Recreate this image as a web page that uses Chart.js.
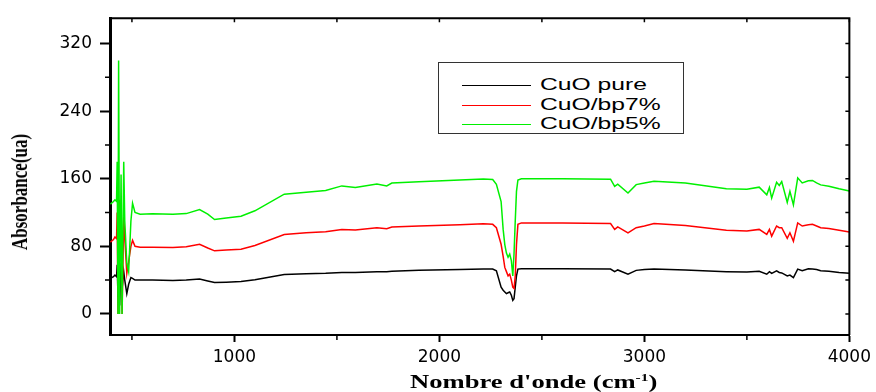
<!DOCTYPE html>
<html>
<head>
<meta charset="utf-8">
<script src="https://cdn.jsdelivr.net/npm/chart.js@4.4.1/dist/chart.umd.min.js"></script>
<style>
  body { margin: 0; background: #fff; }
  #wrap { position: relative; width: 876px; height: 392px; overflow: hidden; }
  #legend { position: absolute; left: 438px; top: 62px; width: 244px; height: 70px; border: 1px solid #333; background: #fff; }
  #legend .row { position: absolute; left: 0; height: 20px; width: 100%; }
  #legend .line { position: absolute; left: 23px; width: 69px; top: 10px; height: 1px; }
  #legend .txt { position: absolute; left: 101px; top: 0; font: 17px "Liberation Sans", Arial, sans-serif; line-height: 20px; transform: scaleX(1.45); transform-origin: left center; white-space: nowrap; color: #000; }
  #xTitle { position: absolute; left: 410px; top: 366px; font: bold 19px "Liberation Serif", "Times New Roman", serif; line-height: 22px; transform: scaleX(1.4); transform-origin: left center; white-space: nowrap; }
  #xTitle sup { font-size: 11px; }
  #yTitle { position: absolute; left: 20px; top: 192px; font: bold 17px "Liberation Serif", "Times New Roman", serif; white-space: nowrap; transform: translate(-50%, -50%) rotate(-90deg) scaleY(1.3); }
</style>
</head>
<body>
<div id="wrap">
  <canvas id="chart" width="876" height="392"></canvas>
  <div id="legend"></div>
  <div id="xTitle">Nombre d'onde (cm<sup>-1</sup>)</div>
  <div id="yTitle">Absorbance(ua)</div>
</div>
<script>
// wavenumbers (cm-1), shared by the three spectra
const waveNumbers = [
  395, 410, 417, 425, 428, 432, 435, 440, 447, 452, 460, 465, 475, 484, 495, 503, 515, 540,
  600, 700, 765, 830, 870, 903, 960, 1032, 1100, 1243, 1350, 1445, 1524, 1590, 1695, 1743, 1768, 1900, 2100, 2214, 2260,
  2278, 2301, 2311, 2319, 2327, 2335, 2343, 2351, 2358, 2364, 2370, 2376, 2383, 2400,
  2600, 2835, 2855, 2870, 2920, 2960, 3000, 3047, 3200, 3400, 3500, 3560,
  3597, 3610, 3621, 3645, 3658, 3670, 3697, 3710, 3727, 3748, 3770, 3800, 3820, 3840, 3860, 3900, 3950, 4000,
];

const cuoPure = [
  42, 44, 46, 44, 58, 20, 45, 10, 60, 30, 50, 40, 24, 35, 43, 42, 40, 40,
  40, 39.5, 40, 41.4, 39, 37.1, 37.5, 38.3, 40.5, 46.5, 47.5, 48, 49, 49, 50, 50, 50.5, 51.5, 52.5, 53, 53,
  51, 31.6, 28, 26, 24, 25, 26, 22, 16, 18, 31.6, 45, 53, 53.5,
  53.5, 53, 50, 52, 47, 51.5, 52.5, 53, 52, 50, 49.5, 50.5,
  47, 50, 48, 51, 49, 48.5, 45, 46, 43, 53, 51, 53.5, 53, 52.5, 51, 50.5, 49, 48,
];

const cuoBp7 = [
  85, 88, 91, 89, 120, 0, 110, 135, 108, 0, 115, 90, 48, 62, 80, 87, 80, 79,
  79, 78.5, 79.5, 82.4, 78, 74.6, 75.5, 76.6, 81, 94, 96, 97.2, 100, 99.2, 101.9, 100.8, 102.7, 104, 105.5, 106.6, 106,
  102, 82.4, 68, 55, 50, 45, 47, 40, 31.6, 30, 45, 82, 106, 107.7,
  107.5, 107, 100, 103, 96, 102, 104, 107, 104.5, 99, 98, 100,
  94, 100, 92, 104, 102, 102, 89.5, 96, 86, 107.7, 104, 105.5, 106, 104, 102, 101, 99, 97,
];

const cuoBp5 = [
  130, 133, 135, 133, 180, 0, 300, 0, 165, 0, 180, 110, 60, 50, 110, 131, 120, 118,
  118.5, 118, 118.7, 123.4, 118, 111.7, 113.5, 115.6, 122, 141.7, 144, 146, 151.5, 149.5, 153.8, 151.5, 154.8, 156.5, 158.5, 159.7, 159,
  153.4, 133, 100, 82, 72, 67, 70.7, 63, 45, 71, 110, 145, 158.5, 160,
  160, 159.5, 151, 153.5, 143, 153, 155, 157, 155, 148, 147.5, 150,
  141, 149.6, 137, 155.7, 152, 156.6, 132, 145, 129, 161, 155, 157.5, 158, 155, 152.7, 151, 148, 145.5,
];

const seriesNames = ["CuO pure", "CuO/bp7%", "CuO/bp5%"];
const seriesColors = ["#000000", "#ff0000", "#00f000"];

const xMajorTicks = [1000, 2000, 3000, 4000];
const xMinorTicks = [500, 1500, 2500, 3500];
const yMajorTicks = [0, 80, 160, 240, 320];
const yMinorTicks = [40, 120, 200, 280];

function toPoints(values) {
  return waveNumbers.map((x, i) => ({ x, y: values[i] }));
}

// minor ticks, mirrored ticks and the top/right frame
const frameTicks = {
  id: "frameTicks",
  afterDraw(chart) {
    const { ctx, chartArea: a, scales: { x, y } } = chart;
    ctx.save();
    ctx.strokeStyle = "#000";
    ctx.lineWidth = 2;
    ctx.beginPath();
    ctx.moveTo(a.left, a.top);
    ctx.lineTo(a.right, a.top);
    ctx.lineTo(a.right, a.bottom);
    ctx.stroke();

    ctx.lineWidth = 1.5;
    ctx.beginPath();
    for (const v of xMinorTicks) {
      const px = x.getPixelForValue(v);
      ctx.moveTo(px, a.bottom);
      ctx.lineTo(px, a.bottom + 5);
    }
    for (const v of [...xMajorTicks, ...xMinorTicks]) {
      const px = x.getPixelForValue(v);
      ctx.moveTo(px, a.top);
      ctx.lineTo(px, a.top + 4);
    }
    for (const v of yMinorTicks) {
      const py = y.getPixelForValue(v);
      ctx.moveTo(a.left, py);
      ctx.lineTo(a.left - 5, py);
    }
    for (const v of [...yMajorTicks, ...yMinorTicks]) {
      const py = y.getPixelForValue(v);
      ctx.moveTo(a.right, py);
      ctx.lineTo(a.right - 4, py);
    }
    ctx.stroke();
    ctx.restore();
  },
};

const values = [cuoPure, cuoBp7, cuoBp5];
const tickFont = { family: "'DejaVu Sans', Verdana, sans-serif", size: 17 };

new Chart(document.getElementById("chart"), {
  type: "line",
  data: {
    datasets: values.map((v, i) => ({
      label: seriesNames[i],
      data: toPoints(v),
      borderColor: seriesColors[i],
      borderWidth: 1.5,
      pointRadius: 0,
      tension: 0,
      order: 2 - i,
    })),
  },
  options: {
    responsive: false,
    animation: false,
    layout: { padding: { top: 15, right: 23, bottom: 0, left: 0 } },
    plugins: { legend: { display: false }, tooltip: { enabled: false } },
    scales: {
      x: {
        type: "linear",
        min: 393,
        max: 4000,
        afterBuildTicks: (s) => { s.ticks = xMajorTicks.map((value) => ({ value })); },
        afterFit: (s) => { s.height = 57; },
        ticks: { autoSkip: false, maxRotation: 0, padding: 5, color: "#000", font: tickFont, callback: (v) => String(v) },
        grid: { drawOnChartArea: false, tickLength: 7, tickWidth: 2, tickColor: "#000" },
        border: { display: true, color: "#000", width: 2 },
      },
      y: {
        min: -25,
        max: 350,
        afterBuildTicks: (s) => { s.ticks = yMajorTicks.map((value) => ({ value })); },
        afterFit: (s) => { s.width = 110; },
        ticks: { autoSkip: false, padding: 8, color: "#000", font: tickFont, callback: (v) => String(v) },
        grid: { drawOnChartArea: false, tickLength: 10, tickWidth: 2, tickColor: "#000" },
        border: { display: true, color: "#000", width: 3 },
      },
    },
  },
  plugins: [frameTicks],
});

// legend box
const legend = document.getElementById("legend");
legend.innerHTML = seriesNames.map((name, i) => `
  <div class="row" style="top:${12 + i * 19.5}px">
    <div class="line" style="background:${seriesColors[i]}"></div>
    <div class="txt">${name}</div>
  </div>
`).join("");
</script>
</body>
</html>
